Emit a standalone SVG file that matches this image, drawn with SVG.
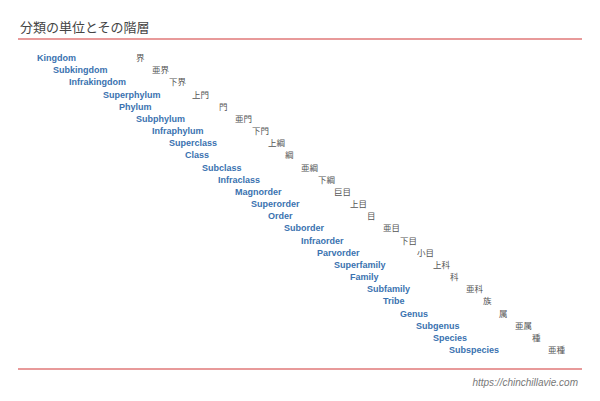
<svg xmlns="http://www.w3.org/2000/svg" width="600" height="401" viewBox="0 0 600 401">
<style>
.en{font-family:"Liberation Sans","Noto Sans CJK JP",sans-serif;font-size:9px;font-weight:bold;fill:#3a72b0}
.ja{font-family:"Noto Sans CJK JP",sans-serif;font-size:8.5px;fill:#555}
.t{font-family:"Noto Sans CJK JP",sans-serif;font-size:13px;fill:#444}
.u{font-family:"Liberation Sans",sans-serif;font-size:10px;font-style:italic;fill:#777}
.r{stroke:#e89a9a;stroke-width:2}
</style>
<rect width="600" height="401" fill="#fff"/>
<text class="t" x="20" y="32">分類の単位とその階層</text>
<line class="r" x1="18" y1="39" x2="582" y2="39"/>
<line class="r" x1="18" y1="369" x2="582" y2="369"/>
<text class="u" x="578" y="386" text-anchor="end">https://chinchillavie.com</text>
<g id="ranks">
<text class="en" x="37" y="61">Kingdom</text><text class="ja" x="136" y="61">界</text>
<text class="en" x="53" y="73">Subkingdom</text><text class="ja" x="152" y="73">亜界</text>
<text class="en" x="69" y="85">Infrakingdom</text><text class="ja" x="169" y="85">下界</text>
<text class="en" x="103" y="97.5">Superphylum</text><text class="ja" x="192" y="97.5">上門</text>
<text class="en" x="119" y="109.7">Phylum</text><text class="ja" x="219" y="109.7">門</text>
<text class="en" x="136" y="121.8">Subphylum</text><text class="ja" x="235" y="121.8">亜門</text>
<text class="en" x="152" y="134">Infraphylum</text><text class="ja" x="252" y="134">下門</text>
<text class="en" x="169" y="146.2">Superclass</text><text class="ja" x="268" y="146.2">上綱</text>
<text class="en" x="185" y="158.4">Class</text><text class="ja" x="285" y="158.4">綱</text>
<text class="en" x="202" y="170.5">Subclass</text><text class="ja" x="301" y="170.5">亜綱</text>
<text class="en" x="218" y="182.7">Infraclass</text><text class="ja" x="318" y="182.7">下綱</text>
<text class="en" x="235" y="194.9">Magnorder</text><text class="ja" x="334" y="194.9">巨目</text>
<text class="en" x="251" y="207">Superorder</text><text class="ja" x="350" y="207">上目</text>
<text class="en" x="268" y="219.2">Order</text><text class="ja" x="367" y="219.2">目</text>
<text class="en" x="284" y="231.4">Suborder</text><text class="ja" x="383" y="231.4">亜目</text>
<text class="en" x="301" y="243.5">Infraorder</text><text class="ja" x="400" y="243.5">下目</text>
<text class="en" x="317" y="255.7">Parvorder</text><text class="ja" x="417" y="255.7">小目</text>
<text class="en" x="334" y="267.9">Superfamily</text><text class="ja" x="433" y="267.9">上科</text>
<text class="en" x="350" y="280">Family</text><text class="ja" x="450" y="280">科</text>
<text class="en" x="367" y="292.2">Subfamily</text><text class="ja" x="466" y="292.2">亜科</text>
<text class="en" x="383" y="304.4">Tribe</text><text class="ja" x="483" y="304.4">族</text>
<text class="en" x="400" y="316.5">Genus</text><text class="ja" x="499" y="316.5">属</text>
<text class="en" x="416" y="328.7">Subgenus</text><text class="ja" x="515" y="328.7">亜属</text>
<text class="en" x="433" y="340.9">Species</text><text class="ja" x="532" y="340.9">種</text>
<text class="en" x="449" y="353">Subspecies</text><text class="ja" x="548" y="353">亜種</text>
</g>
</svg>
